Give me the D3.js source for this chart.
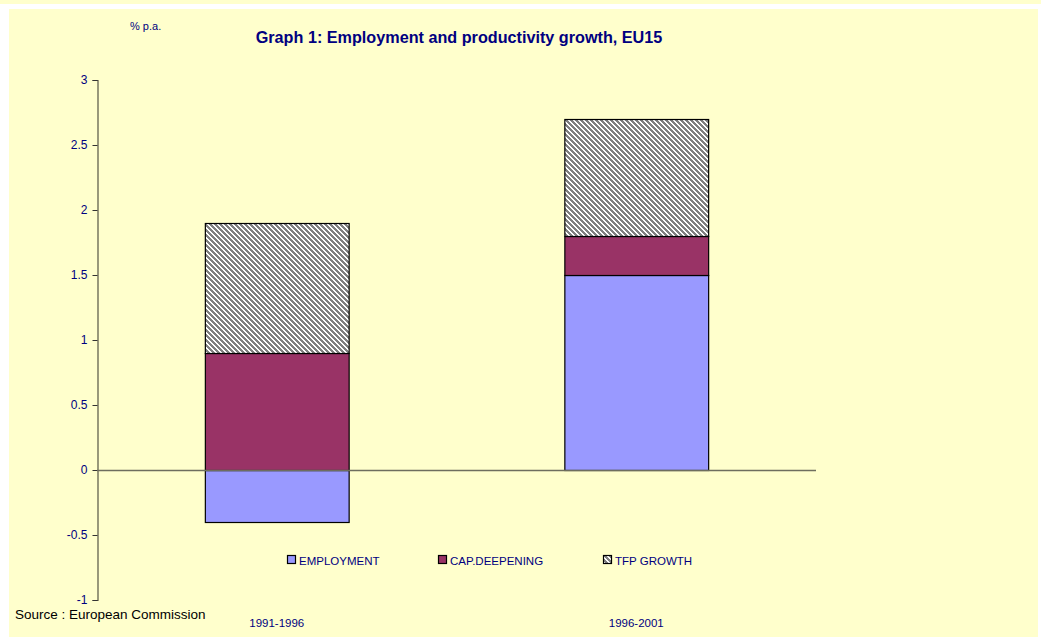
<!DOCTYPE html>
<html>
<head>
<meta charset="utf-8">
<script src="https://cdn.jsdelivr.net/npm/d3@7"></script>
<style>
  html, body { margin: 0; padding: 0; background: #ffffff; }
  svg { display: block; font-family: "Liberation Sans", Arial, sans-serif; }
</style>
</head>
<body>
<svg id="chart" width="1041" height="641"></svg>
<script>
// Growth decomposition, EU15, % per annum
const periods = ["1991-1996", "1996-2001"];
const employment = [-0.4, 1.5];
const capDeepening = [0.9, 0.3];
const tfpGrowth = [1.0, 0.9];
const seriesNames = ["EMPLOYMENT", "CAP.DEEPENING", "TFP GROWTH"];
const yTicks = [-1, -0.5, 0, 0.5, 1, 1.5, 2, 2.5, 3];

const svg = d3.select("#chart");
const navy = "#000080";

// diagonal hatch fill for TFP growth
const P = 5;
const defs = svg.append("defs");
const pat = defs.append("pattern")
  .attr("id", "hatch").attr("patternUnits", "userSpaceOnUse")
  .attr("width", P).attr("height", P);
pat.append("rect").attr("width", P).attr("height", P).attr("fill", "#ffffff");
for (let r = 0; r < P; r++) {
  for (let c = 0; c < P; c++) {
    if (((c - r) % P + P) % P < 3) {
      pat.append("rect").attr("x", c).attr("y", r).attr("width", 1).attr("height", 1)
        .attr("fill", "#808080").attr("shape-rendering", "crispEdges");
    }
  }
}

// page background and panel
svg.append("rect").attr("x", 0).attr("y", 0).attr("width", 1041).attr("height", 4).attr("fill", "#FFFFCC");
svg.append("rect").attr("x", 9).attr("y", 9).attr("width", 1029).attr("height", 628).attr("fill", "#FFFFCC");

const x = d3.scaleBand().domain(periods).range([97, 816]).paddingInner(0.6).paddingOuter(0.3);
const y = d3.scaleLinear().domain([-1, 3]).range([600, 80]);

// stacked segments: positives stack upward from zero, negatives downward
const fills = ["#9999FF", "#993366", "url(#hatch)"];
const values = [employment, capDeepening, tfpGrowth];
const segments = [];
periods.forEach((p, i) => {
  let pos = 0, neg = 0;
  values.forEach((vals, s) => {
    const v = vals[i];
    let y0, y1;
    if (v >= 0) { y0 = pos; y1 = pos + v; pos = y1; }
    else { y0 = neg + v; y1 = neg; neg = y0; }
    segments.push({ period: p, s, y0, y1 });
  });
});

// y axis
const yAxis = d3.axisLeft(y).tickValues(yTicks).tickSize(5).tickPadding(5)
  .tickFormat(d => String(d));
const gy = svg.append("g").attr("transform", "translate(97.5,0)").call(yAxis);
gy.select(".domain").attr("stroke", "#555544").attr("stroke-width", 1.2);
gy.selectAll(".tick line").attr("stroke", "#333333");
gy.selectAll(".tick text").attr("fill", navy).attr("font-size", "12px")
  .attr("font-family", "Liberation Sans, Arial, sans-serif");

svg.append("g").selectAll("rect").data(segments).join("rect")
  .attr("x", d => x(d.period) + 0.5)
  .attr("width", x.bandwidth())
  .attr("y", d => y(d.y1) + 0.5)
  .attr("height", d => y(d.y0) - y(d.y1))
  .attr("fill", d => fills[d.s])
  .attr("stroke", "#000000").attr("stroke-width", 1.2);

// zero line
svg.append("line")
  .attr("x1", x.range()[0]).attr("x2", x.range()[1])
  .attr("y1", y(0) + 0.5).attr("y2", y(0) + 0.5)
  .attr("stroke", "#6e6e5e").attr("stroke-width", 1.6);

// category labels
svg.append("g").selectAll("text").data(periods).join("text")
  .attr("x", d => x(d) + x.bandwidth() / 2)
  .attr("y", 627)
  .attr("text-anchor", "middle")
  .attr("fill", navy).attr("font-size", "11.5px")
  .text(d => d);

// title and unit
svg.append("text").attr("x", 459).attr("y", 43).attr("text-anchor", "middle")
  .attr("fill", navy).attr("font-size", "16.2px").attr("font-weight", "bold")
  .text("Graph 1: Employment and productivity growth, EU15");
svg.append("text").attr("x", 130).attr("y", 30)
  .attr("fill", navy).attr("font-size", "11px").text("% p.a.");

// legend
const legendX = [287, 438, 603];
const lg = svg.append("g").selectAll("g").data(seriesNames).join("g")
  .attr("transform", (d, i) => `translate(${legendX[i]},555)`);
lg.append("rect").attr("x", 0.5).attr("y", 0.5).attr("width", 8).attr("height", 8)
  .attr("fill", (d, i) => fills[i]).attr("stroke", "#000000").attr("stroke-width", 1.2);
lg.append("text").attr("x", 12).attr("y", 9.5)
  .attr("fill", navy).attr("font-size", "11.5px").text(d => d);

// source note
svg.append("text").attr("x", 15).attr("y", 619)
  .attr("fill", "#000000").attr("font-size", "13.5px")
  .text("Source : European Commission");
</script>
</body>
</html>
